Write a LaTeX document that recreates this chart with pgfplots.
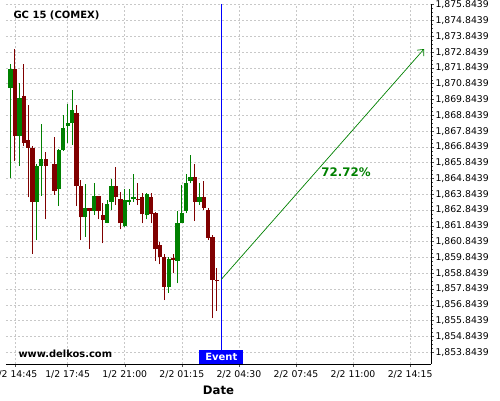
\documentclass[border=0pt]{standalone}
\usepackage{pgfplots}
\pgfplotsset{compat=1.18}
\usepackage{pgfplotstable}
\usepackage{fontspec}
\setmainfont{DejaVu Sans}
\usetikzlibrary{arrows.meta}
\definecolor{cgreen}{RGB}{0,128,0}
\definecolor{cred}{RGB}{128,0,0}
\definecolor{gridc}{RGB}{200,200,200}
\definecolor{evblue}{RGB}{0,0,255}

\pgfplotstableread{
i o h l c
0 1870.59 1872.09 1864.88 1871.77
2 1867.51 1870.91 1865.62 1869.94
6 1863.38 1865.76 1860.95 1865.63
7 1865.63 1868.29 1863.74 1866.06
11 1864.16 1866.71 1863.10 1866.65
12 1866.65 1868.86 1866.60 1868.02
13 1868.19 1869.54 1867.07 1868.34
14 1868.34 1870.44 1866.96 1869.18
17 1862.39 1864.50 1861.16 1862.98
19 1862.81 1864.54 1862.55 1863.72
22 1862.05 1863.48 1862.00 1863.23
23 1863.38 1864.83 1862.85 1864.37
26 1861.86 1864.16 1861.79 1863.48
27 1863.38 1864.16 1863.17 1863.48
28 1863.55 1865.11 1863.38 1863.69
31 1862.53 1863.91 1862.26 1863.86
36 1858.00 1859.89 1857.60 1859.73
38 1859.64 1862.79 1858.21 1862.01
39 1862.01 1864.43 1862.01 1862.64
40 1862.81 1865.11 1862.64 1864.54
41 1864.70 1866.33 1864.54 1864.92
43 1863.38 1864.54 1863.17 1863.65
}\greendata

\pgfplotstableread{
i o h l c
1 1871.77 1873.06 1865.93 1867.51
3 1870.07 1872.09 1866.90 1867.11
4 1867.28 1869.50 1863.65 1866.79
5 1866.77 1866.90 1860.05 1863.38
8 1866.06 1866.52 1862.26 1865.62
10 1865.76 1867.45 1863.82 1864.07
15 1869.01 1869.50 1863.10 1864.37
16 1864.37 1864.75 1860.95 1862.39
18 1862.98 1862.98 1860.38 1862.81
20 1863.72 1863.74 1862.26 1862.81
21 1862.55 1863.27 1860.74 1862.22
24 1864.37 1865.55 1863.17 1863.69
25 1863.55 1863.97 1861.63 1862.01
29 1863.55 1864.58 1863.17 1863.48
30 1863.69 1863.91 1862.01 1862.58
32 1863.69 1863.91 1862.01 1862.58
33 1862.68 1862.74 1859.62 1860.38
34 1860.63 1860.84 1859.41 1859.89
35 1859.86 1860.05 1857.15 1857.96
37 1859.79 1860.07 1858.84 1859.68
42 1864.92 1865.74 1862.15 1863.38
44 1863.65 1864.70 1862.85 1863.00
45 1862.85 1862.96 1860.95 1861.10
46 1861.12 1861.27 1855.99 1858.42
47 1858.42 1859.16 1856.48 1858.36
}\reddata

\begin{document}
\begin{tikzpicture}
\path[use as bounding box] (0,0) rectangle (500pt,400pt);
\begin{axis}[
  at={(6pt,36pt)}, anchor=south west,
  scale only axis, width=425pt, height=360pt,
  xmin=-1.05, xmax=95.76, ymin=1853.10, ymax=1875.89,
  axis x line*=bottom, axis y line*=right,
  axis line style={black, line width=0.8pt},
  xtick={1,13,26,39,52,65,78,91},
  xticklabels={1/2 14:45, 1/2 17:45, 1/2 21:00, 2/2 01:15, 2/2 04:30, 2/2 07:45, 2/2 11:00, 2/2 14:15},
  minor x tick num=3,
  ytick={1853.8439,1854.8439,1855.8439,1856.8439,1857.8439,1858.8439,1859.8439,1860.8439,1861.8439,1862.8439,1863.8439,1864.8439,1865.8439,1866.8439,1867.8439,1868.8439,1869.8439,1870.8439,1871.8439,1872.8439,1873.8439,1874.8439,1875.8439},
  yticklabels={{1,853.8439},{1,854.8439},{1,855.8439},{1,856.8439},{1,857.8439},{1,858.8439},{1,859.8439},{1,860.8439},{1,861.8439},{1,862.8439},{1,863.8439},{1,864.8439},{1,865.8439},{1,866.8439},{1,867.8439},{1,868.8439},{1,869.8439},{1,870.8439},{1,871.8439},{1,872.8439},{1,873.8439},{1,874.8439},{1,875.8439}},
  minor y tick num=3,
  tick align=outside,
  major tick length=3pt, minor tick length=2pt,
  every tick/.style={black!70, line width=0.5pt},
  grid=major,
  major grid style={gridc, dash pattern=on 2pt off 2pt, line width=0.6pt},
  tick label style={font=\fontsize{9.3}{11}\selectfont},
  yticklabel style={xshift=-2pt},
  xlabel={Date},
  xlabel style={font=\fontsize{11.7}{14}\selectfont\bfseries, yshift=-1pt},
]
% wicks
\addplot[draw=none, mark=none, forget plot,
  error bars/.cd, y dir=plus, y explicit, error mark=none,
  error bar style={line width=1pt, draw=cgreen}]
  table[x=i, y=l, y error plus expr=\thisrow{h}-\thisrow{l}] {\greendata};
\addplot[draw=none, mark=none, forget plot,
  error bars/.cd, y dir=plus, y explicit, error mark=none,
  error bar style={line width=1pt, draw=cred}]
  table[x=i, y=l, y error plus expr=\thisrow{h}-\thisrow{l}] {\reddata};
% bodies
\addplot[draw=none, mark=none, forget plot,
  error bars/.cd, y dir=plus, y explicit, error mark=none,
  error bar style={line width=4.3pt, draw=cgreen}]
  table[x=i, y=o, y error plus expr=\thisrow{c}-\thisrow{o}] {\greendata};
\addplot[draw=none, mark=none, forget plot,
  error bars/.cd, y dir=plus, y explicit, error mark=none,
  error bar style={line width=4.3pt, draw=cred}]
  table[x=i, y=c, y error plus expr=\thisrow{o}-\thisrow{c}] {\reddata};
% event line
\addplot[evblue, line width=1pt, forget plot] coordinates {(48,1853.10) (48,1875.89)};
% projection arrow
\addplot[cgreen, line width=0.7pt, -{Straight Barb[length=5pt,width=9pt]}, forget plot] coordinates {(48,1858.46) (94.17,1873.04)};
\node[anchor=west, font=\fontsize{10}{12}\selectfont\bfseries] at (rel axis cs:0.0094,0.9686) {GC 15 (COMEX)};
\node[anchor=west, font=\fontsize{9.9}{12}\selectfont\bfseries] at (rel axis cs:0.0212,0.0278) {www.delkos.com};
\node[fill=evblue, text=white, font=\fontsize{10}{12}\selectfont\bfseries, minimum width=44pt, minimum height=14pt, inner sep=0pt, anchor=south] at (axis cs:48,1853.10) {Event};
\node[text=cgreen, font=\fontsize{11.8}{14}\selectfont\bfseries] at (axis cs:76.4,1865.25) {72.72\%};
\end{axis}
\end{tikzpicture}
\end{document}
